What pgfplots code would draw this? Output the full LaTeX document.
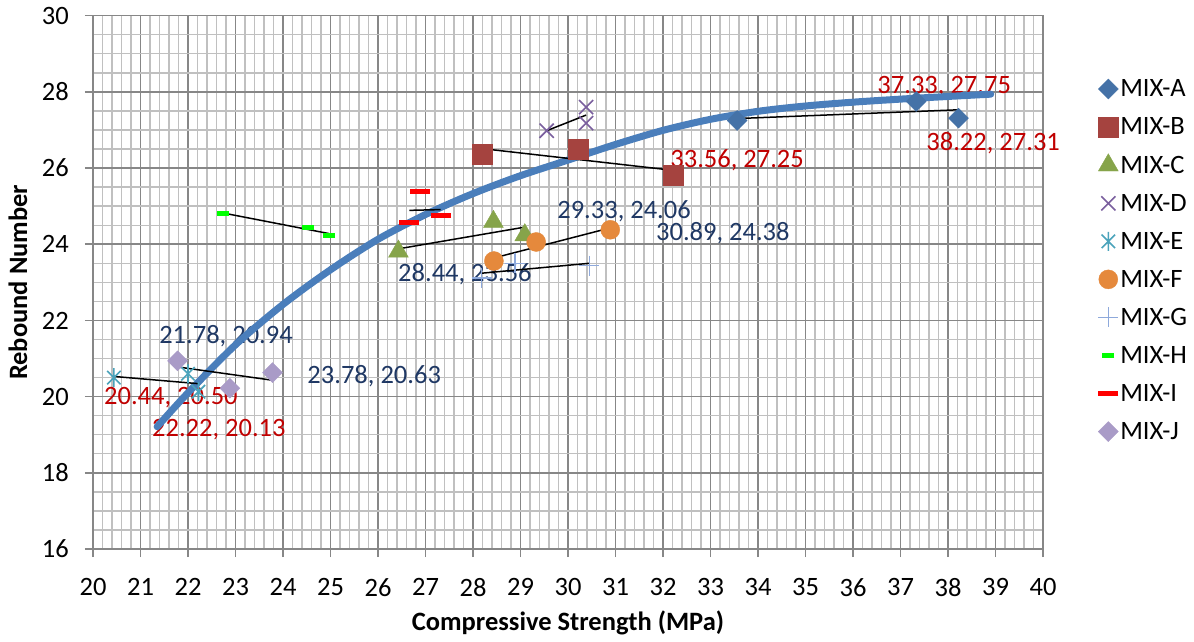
\documentclass[border=0pt]{standalone}
\usepackage{fontspec}
\setmainfont{Carlito}
\usepackage{pgfplots}
\pgfplotsset{compat=1.18}
\definecolor{ca}{HTML}{4572A7}
\definecolor{cb}{HTML}{A5433F}
\definecolor{cc}{HTML}{86A44A}
\definecolor{cd}{HTML}{7A5F9E}
\definecolor{ce}{HTML}{4BA3BB}
\definecolor{cf}{HTML}{E5893C}
\definecolor{cg}{HTML}{8EA9DB}
\definecolor{ch}{HTML}{00FF00}
\definecolor{ci}{HTML}{FF0000}
\definecolor{cj}{HTML}{A99BC7}
\definecolor{curve}{HTML}{4A7EBB}
\definecolor{labred}{HTML}{C00000}
\definecolor{labblue}{HTML}{1F3864}
\definecolor{gmaj}{HTML}{878787}
\definecolor{gmin}{HTML}{C0C0C0}
\pgfdeclareplotmark{xstar}{%
  \pgfpathmoveto{\pgfqpoint{0pt}{\pgfplotmarksize}}%
  \pgfpathlineto{\pgfqpoint{0pt}{-\pgfplotmarksize}}%
  \pgfpathmoveto{\pgfqpoint{.7071\pgfplotmarksize}{.7071\pgfplotmarksize}}%
  \pgfpathlineto{\pgfqpoint{-.7071\pgfplotmarksize}{-.7071\pgfplotmarksize}}%
  \pgfpathmoveto{\pgfqpoint{-.7071\pgfplotmarksize}{.7071\pgfplotmarksize}}%
  \pgfpathlineto{\pgfqpoint{.7071\pgfplotmarksize}{-.7071\pgfplotmarksize}}%
  \pgfusepathqstroke}
\newcommand{\fs}{\fontsize{26.5}{31}\selectfont}
\begin{document}
\begin{tikzpicture}[x=1pt,y=1pt]
\path[use as bounding box] (0,0) rectangle (1194,641);
\begin{axis}[
  at={(93pt,92pt)}, anchor=south west,
  scale only axis, width=950pt, height=533.3pt,
  xmin=20, xmax=40, ymin=16, ymax=30,
  xtick={20,21,...,40}, ytick={16,18,...,30},
  minor x tick num=4, minor y tick num=3,
  grid=both,
  major grid style={color=gmaj, line width=1.6pt},
  minor grid style={color=gmin, line width=1.4pt},
  axis line style={color=gmaj, line width=1.6pt},
  tick pos=left, tick align=outside,
  major tick length=8pt, minor tick length=0pt,
  tick style={color=gmaj, line width=1.6pt},
  /pgf/number format/assume math mode=true,
  ticklabel style={font=\fs, text=black},
  xticklabel style={inner sep=0pt, anchor=north, yshift=-21pt},
  yticklabel style={inner sep=0pt, anchor=east, xshift=-16pt},
  xlabel={\bfseries Compressive Strength (MPa)},
  ylabel={\bfseries Rebound Number},
  label style={font=\fs},
  xlabel style={at={(axis description cs:0.5,-0.139)}, anchor=center},
  ylabel style={at={(axis description cs:-0.079,0.5)}, anchor=center},
  clip=false,
  legend style={at={(rel axis cs:1.058,0.884)}, anchor=north west, draw=none, fill=none,
    font=\fs, inner sep=0pt, row sep=15.5pt, cells={anchor=west},
    /tikz/every even column/.append style={column sep=6pt}},
  legend image code/.code={\draw[#1] plot coordinates {(0pt,0pt)};},
]
\addplot[only marks, mark=square*, mark size=7.07pt, mark options={rotate=45, fill=ca, draw=ca}]
  coordinates {(33.56,27.25) (37.33,27.75) (38.22,27.31)};
\addlegendentry{MIX-A}
\addplot[only marks, mark=square*, mark size=10pt, mark options={fill=cb, draw=cb}]
  coordinates {(28.20,26.37) (30.22,26.50) (32.22,25.80)};
\addlegendentry{MIX-B}
\addplot[only marks, mark=triangle*, mark size=11.5pt, mark options={fill=cc, draw=cc}]
  coordinates {(26.43,23.81) (28.43,24.59) (29.09,24.24)};
\addlegendentry{MIX-C}
\addplot[only marks, mark=x, mark size=10pt, mark options={draw=cd, line width=1.6pt}]
  coordinates {(29.55,26.98) (30.38,27.60) (30.38,27.18)};
\addlegendentry{MIX-D}
\addplot[only marks, mark=xstar, mark size=9.5pt, mark options={draw=ce, line width=1.6pt}]
  coordinates {(20.44,20.50) (22.00,20.60) (22.22,20.13)};
\addlegendentry{MIX-E}
\addplot[only marks, mark=*, mark size=9.5pt, mark options={fill=cf, draw=cf}]
  coordinates {(28.44,23.56) (29.33,24.06) (30.89,24.38)};
\addlegendentry{MIX-F}
\addplot[only marks, mark=+, mark size=10pt, mark options={draw=cg, line width=1.6pt}]
  coordinates {(28.18,23.11) (28.88,23.50) (30.45,23.44)};
\addlegendentry{MIX-G}
\addplot[only marks, mark=-, mark size=6pt, mark options={draw=ch, line width=5pt}]
  coordinates {(22.74,24.81) (24.53,24.44) (24.97,24.24)};
\addlegendentry{MIX-H}
\addplot[only marks, mark=-, mark size=10pt, mark options={draw=ci, line width=5pt}]
  coordinates {(26.88,25.38) (27.32,24.75) (26.66,24.57)};
\addlegendentry{MIX-I}
\addplot[only marks, mark=square*, mark size=7.07pt, mark options={rotate=45, fill=cj, draw=cj}]
  coordinates {(21.78,20.94) (23.78,20.63) (22.88,20.22)};
\addlegendentry{MIX-J}

\begin{scope}[font=\fs]
\node[text=labred] at (axis cs:37.92,28.15) {37.33, 27.75};
\node[text=labred] at (axis cs:38.95,26.66) {38.22, 27.31};
\node[text=labred] at (axis cs:33.56,26.21) {33.56, 27.25};
\node[text=labblue] at (axis cs:31.18,24.87) {29.33, 24.06};
\node[text=labblue] at (axis cs:33.26,24.30) {30.89, 24.38};
\node[text=labblue] at (axis cs:27.83,23.22) {28.44, 23.56};
\node[text=labblue] at (axis cs:22.80,21.59) {21.78, 20.94};
\node[text=labblue] at (axis cs:25.92,20.54) {23.78, 20.63};
\node[text=labred] at (axis cs:21.64,19.97) {20.44, 20.50};
\node[text=labred] at (axis cs:22.65,19.13) {22.22, 20.13};
\end{scope}

\addplot[forget plot, smooth, color=curve, line width=7pt, line cap=round] coordinates {
 (21.35,19.21) (22.0,20.10) (23.0,21.36) (24.0,22.42) (25.0,23.33) (26.0,24.13)
 (27.0,24.78) (28.0,25.33) (29.0,25.80) (30.0,26.21) (31.0,26.62) (32.0,26.99)
 (33.0,27.28) (34.0,27.49) (35.0,27.63) (36.0,27.73) (37.0,27.81) (38.0,27.88) (38.9,27.94)};

\addplot[forget plot, black, line width=1.5pt] coordinates {(33.56,27.30) (38.22,27.53)};
\addplot[forget plot, black, line width=1.5pt] coordinates {(28.20,26.51) (32.22,25.94)};
\addplot[forget plot, black, line width=1.5pt] coordinates {(26.43,23.88) (29.09,24.45)};
\addplot[forget plot, black, line width=1.5pt] coordinates {(29.55,26.98) (30.38,27.39)};
\addplot[forget plot, black, line width=1.5pt] coordinates {(20.44,20.53) (22.22,20.34)};
\addplot[forget plot, black, line width=1.5pt] coordinates {(28.44,23.64) (30.89,24.43)};
\addplot[forget plot, black, line width=1.5pt] coordinates {(28.18,23.24) (30.45,23.50)};
\addplot[forget plot, black, line width=1.5pt] coordinates {(22.74,24.82) (24.97,24.28)};
\addplot[forget plot, black, line width=1.5pt] coordinates {(26.66,24.89) (27.32,24.91)};
\addplot[forget plot, black, line width=1.5pt] coordinates {(21.78,20.78) (23.78,20.43)};
\end{axis}
\end{tikzpicture}
\end{document}
